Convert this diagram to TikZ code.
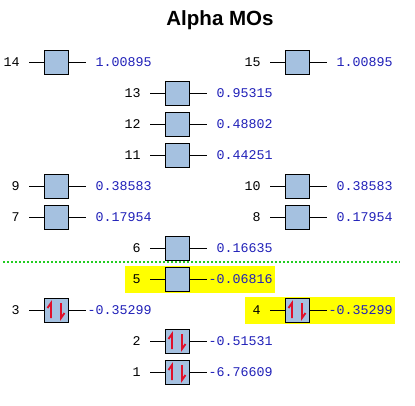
\documentclass[tikz,border=0pt]{standalone}
\usepackage{fontspec}
\setmainfont{Liberation Sans}
\newfontfamily\monofont{Liberation Mono}
\definecolor{boxblue}{HTML}{A5C1E0}
\definecolor{enblue}{HTML}{2020B8}
\definecolor{hiyellow}{HTML}{FFFF00}
\definecolor{dotgreen}{HTML}{22CC22}
\definecolor{elecred}{HTML}{E0102A}
\tikzset{
  mobox/.style={draw=black, fill=boxblue, minimum width=18pt, minimum height=18pt, inner sep=0pt, line width=0.75pt},
  moline/.style={draw=black, line width=0.75pt},
  numlab/.style={inner sep=0pt, font=\monofont\fontsize{10}{12}\selectfont, text=black, anchor=east},
  enlab/.style={inner sep=0pt, font=\monofont\fontsize{10}{12}\selectfont, text=enblue, anchor=east},
  elec/.style={draw=elecred, line width=1.4pt, line join=miter},
  hilite/.style={fill=hiyellow, draw=none},
  homo/.style={draw=dotgreen, line width=1.5pt, dash pattern=on 1.5pt off 1.5pt},
}
\newcommand\molev[5]{%
  \node[mobox] (b#1) at (#2,#3) {};
  \coordinate (l#1) at (#2-27,#3);
  \coordinate (r#1) at (#2+30,#3);
  \draw[moline] (l#1) -- (b#1.west);
  \draw[moline] (b#1.east) -- (r#1);
  \node[numlab] (n#1) at (#2-36,#3) {#4};
  \node[enlab] (e#1) at (#2+96,#3) {#5};
}
\newcommand\occ[3]{%
  \draw[elec] (#2-5,#3+8) -- (#2-5,#3-7) -- (#2-8.5,#3-2);
  \draw[elec] (#2+5,#3-7) -- (#2+5,#3+8) -- (#2+8.5,#3+3);
}
\begin{document}
\begin{tikzpicture}[x=0.75pt,y=-0.75pt]
\useasboundingbox (0,0) rectangle (415,405);
\node[font=\bfseries\fontsize{15.4}{18}\selectfont, anchor=base, inner sep=0pt] (title) at (220,25) {Alpha MOs};
% highlights
\fill[hilite] (125,265.5) rectangle (275,292.5);
\fill[hilite] (245,296.5) rectangle (395,323.5);
% HOMO/LUMO separator
\coordinate (hl) at (3,262);
\coordinate (hr) at (400,262);
\draw[homo] (hl) -- (hr);
% levels
\molev{14}{56}{62}{14}{1.00895}
\molev{15}{297}{62}{15}{1.00895}
\molev{13}{177}{93}{13}{0.95315}
\molev{12}{177}{124}{12}{0.48802}
\molev{11}{177}{155}{11}{0.44251}
\molev{9}{56}{186}{9}{0.38583}
\molev{10}{297}{186}{10}{0.38583}
\molev{7}{56}{217}{7}{0.17954}
\molev{8}{297}{217}{8}{0.17954}
\molev{6}{177}{248}{6}{0.16635}
\molev{5}{177}{279}{5}{-0.06816}
\molev{3}{56}{310}{3}{-0.35299}
\molev{4}{297}{310}{4}{-0.35299}
\molev{2}{177}{341}{2}{-0.51531}
\molev{1}{177}{372}{1}{-6.76609}
% electrons
\occ{3}{56}{310}
\occ{4}{297}{310}
\occ{2}{177}{341}
\occ{1}{177}{372}
\end{tikzpicture}
\end{document}
